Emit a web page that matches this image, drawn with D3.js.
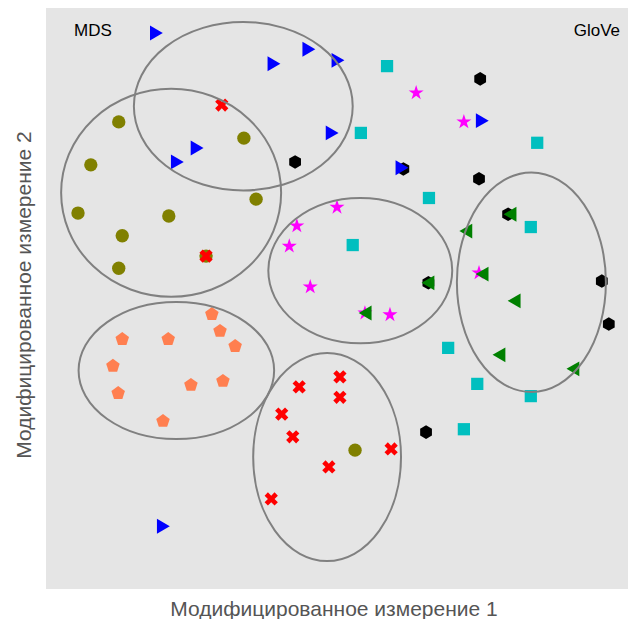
<!DOCTYPE html>
<html lang="en">
<head>
  <meta charset="UTF-8">
  <title>MDS / GloVe</title>
  <script src="https://d3js.org/d3.v7.min.js"></script>
  <style>
    body { margin: 0; background: #fff; font-family: "Liberation Sans", Arial, sans-serif; }
  </style>
</head>
<body>
<svg width="632" height="619"></svg>
<script>
  // point groups, values in plot units (0..100 on both axes)
  const blackX = [74.6, 74.4, 61.4, 79.4, 95.5, 42.8, 65.7, 96.7, 65.3];
  const blackY = [87.8, 70.6, 72.3, 64.5, 53.0, 73.5, 52.7, 45.6, 27.0];

  const magentaX = [63.6, 71.8, 50.0, 43.1, 41.8, 45.4, 59.1, 54.8, 74.4];
  const magentaY = [85.4, 80.4, 65.7, 62.5, 59.0, 52.0, 47.2, 47.5, 54.4];

  const cyanX = [58.6, 54.1, 84.4, 65.8, 83.3, 52.7, 69.1, 74.1, 83.3, 71.8];
  const cyanY = [90.0, 78.5, 76.8, 67.3, 62.3, 59.2, 41.5, 35.3, 33.2, 27.5];

  const coralX = [28.5, 29.9, 32.5, 13.1, 21.0, 11.5, 12.4, 24.9, 30.4, 20.1];
  const coralY = [47.3, 44.4, 41.8, 43.0, 43.0, 38.4, 33.7, 35.1, 35.8, 28.9];

  const oliveX = [12.5, 34.0, 7.7, 5.5, 21.1, 36.1, 13.1, 12.5, 53.1, 27.5];
  const oliveY = [80.4, 77.6, 73.0, 64.7, 64.2, 67.1, 60.8, 55.2, 23.9, 57.3];

  const redX = [30.2, 27.5, 43.5, 50.5, 50.5, 40.5, 42.4, 48.6, 59.3, 38.7];
  const redY = [83.3, 57.3, 34.8, 36.5, 33.0, 30.1, 26.2, 21.0, 24.1, 15.5];

  const blueX = [18.6, 38.8, 44.8, 49.8, 25.6, 22.2, 48.8, 60.8, 74.6, 19.8];
  const blueY = [95.7, 90.4, 92.9, 91.0, 75.9, 73.5, 78.5, 72.5, 80.6, 10.8];

  const greenX = [80.1, 72.5, 75.3, 80.8, 78.2, 90.9, 66.0, 55.2];
  const greenY = [64.5, 61.6, 54.2, 49.6, 40.3, 37.9, 52.7, 47.5];

  // cluster ellipses: centre x, centre y, radius x, radius y
  const ellCx = [33.9, 21.5, 54.0, 83.4, 22.4, 48.3];
  const ellCy = [83.1, 68.2, 54.8, 52.8, 37.6, 22.7];
  const ellRx = [18.8, 18.9, 15.8, 12.8, 16.8, 12.7];
  const ellRy = [14.5, 17.9, 12.5, 18.9, 11.8, 17.9];

  const xTitle = "Модифицированное измерение 1";
  const yTitle = "Модифицированное измерение 2";

  const svg = d3.select("svg");
  const margin = {top: 8, right: 4, bottom: 30, left: 46};
  const width = 632 - margin.left - margin.right;
  const height = 619 - margin.top - margin.bottom;

  const x = d3.scaleLinear().domain([0, 100]).range([0, width]);
  const y = d3.scaleLinear().domain([0, 100]).range([height, 0]);

  const g = svg.append("g").attr("transform", `translate(${margin.left},${margin.top})`);

  g.append("rect")
    .attr("width", width)
    .attr("height", height)
    .attr("fill", "#e5e5e5");

  // custom polygon symbols
  function polygon(n, rot) {
    return {
      draw(ctx, size) {
        const r = Math.sqrt(size / (n / 2 * Math.sin(2 * Math.PI / n)));
        for (let i = 0; i < n; i++) {
          const a = rot + i * 2 * Math.PI / n;
          const px = r * Math.sin(a), py = -r * Math.cos(a);
          if (i === 0) ctx.moveTo(px, py); else ctx.lineTo(px, py);
        }
        ctx.closePath();
      }
    };
  }
  const hexagon = polygon(6, 0);
  const pentagon = polygon(5, 0);

  const groups = [
    {xs: blackX, ys: blackY, color: "#000000", type: hexagon, size: 120, rot: 0},
    {xs: magentaX, ys: magentaY, color: "#ff00ff", type: d3.symbolStar, size: 70, rot: 0},
    {xs: cyanX, ys: cyanY, color: "#00bfbf", type: d3.symbolSquare, size: 150, rot: 0},
    {xs: coralX, ys: coralY, color: "#ff7f50", type: pentagon, size: 120, rot: 0},
    {xs: oliveX, ys: oliveY, color: "#808000", type: d3.symbolCircle, size: 140, rot: 0},
    {xs: redX, ys: redY, color: "#ff0000", type: d3.symbolCross, size: 110, rot: 45},
    {xs: blueX, ys: blueY, color: "#0000ff", type: d3.symbolTriangle, size: 95, rot: 90},
    {xs: greenX, ys: greenY, color: "#008000", type: d3.symbolTriangle, size: 95, rot: -90}
  ];

  groups.forEach(grp => {
    const sym = d3.symbol().type(grp.type).size(grp.size);
    g.append("g")
      .selectAll("path")
      .data(d3.range(grp.xs.length))
      .join("path")
      .attr("d", sym)
      .attr("fill", grp.color)
      .attr("transform", i => `translate(${x(grp.xs[i])},${y(grp.ys[i])}) rotate(${grp.rot})`);
  });

  // ellipses
  g.append("g")
    .selectAll("ellipse")
    .data(d3.range(ellCx.length))
    .join("ellipse")
    .attr("cx", i => x(ellCx[i]))
    .attr("cy", i => y(ellCy[i]))
    .attr("rx", i => x(ellRx[i]) - x(0))
    .attr("ry", i => y(0) - y(ellRy[i]))
    .attr("fill", "none")
    .attr("stroke", "#808080")
    .attr("stroke-width", 2);

  // corner labels
  g.append("text")
    .attr("x", 28).attr("y", 28)
    .attr("font-size", 17)
    .attr("fill", "#000")
    .text("MDS");
  g.append("text")
    .attr("x", width - 8).attr("y", 28)
    .attr("text-anchor", "end")
    .attr("font-size", 17)
    .attr("fill", "#000")
    .text("GloVe");

  // axis titles
  svg.append("text")
    .attr("x", 334)
    .attr("y", 616)
    .attr("text-anchor", "middle")
    .attr("font-size", 21)
    .attr("fill", "#555")
    .text(xTitle);
  svg.append("text")
    .attr("transform", "translate(31,295) rotate(-90)")
    .attr("text-anchor", "middle")
    .attr("font-size", 21)
    .attr("fill", "#555")
    .text(yTitle);
</script>
</body>
</html>
